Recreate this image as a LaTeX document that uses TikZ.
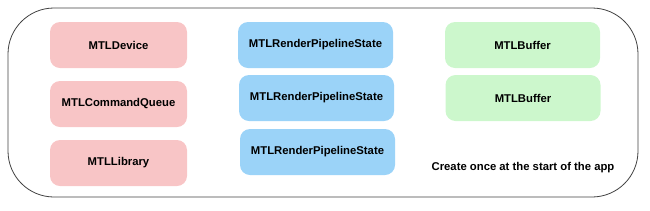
\documentclass[tikz,border=0pt]{standalone}
\usepackage{fontspec}
\setmainfont{Liberation Sans}
\definecolor{redf}{RGB}{248,197,198}
\definecolor{bluef}{RGB}{155,211,248}
\definecolor{greenf}{RGB}{204,247,204}
\begin{document}
\begin{tikzpicture}[x=1pt,y=-1pt,
  obj/.style={rounded corners=10pt,minimum height=46pt,inner sep=0pt,font=\fontsize{11.3}{13}\selectfont\bfseries,text=black},
  redbox/.style={obj,fill=redf,minimum width=137pt},
  bluebox/.style={obj,fill=bluef,minimum width=155pt},
  greenbox/.style={obj,fill=greenf,minimum width=155pt}]
\useasboundingbox (0,0) rectangle (650,210);
\node[draw=black!75,line width=0.8pt,rounded corners=46pt,minimum width=630pt,minimum height=189pt,inner sep=0pt] (frame) at (323,102.5) {};
\node[redbox] (dev) at (118.5,45) {MTLDevice};
\node[redbox] (queue) at (118.5,104) {MTLCommandQueue};
\node[redbox] (lib) at (118.5,163) {MTLLibrary};
\node[bluebox] (rps1) at (315.5,45) {MTLRenderPipelineState};
\node[bluebox] (rps2) at (316.5,98) {MTLRenderPipelineState};
\node[bluebox] (rps3) at (317.5,152) {MTLRenderPipelineState};
\node[greenbox] (buf1) at (522.5,45) {MTLBuffer};
\node[greenbox] (buf2) at (523,98) {MTLBuffer};
\node[font=\fontsize{11.3}{13}\selectfont\bfseries,inner sep=0pt] (note) at (523,168) {Create once at the start of the app};
\end{tikzpicture}
\end{document}
